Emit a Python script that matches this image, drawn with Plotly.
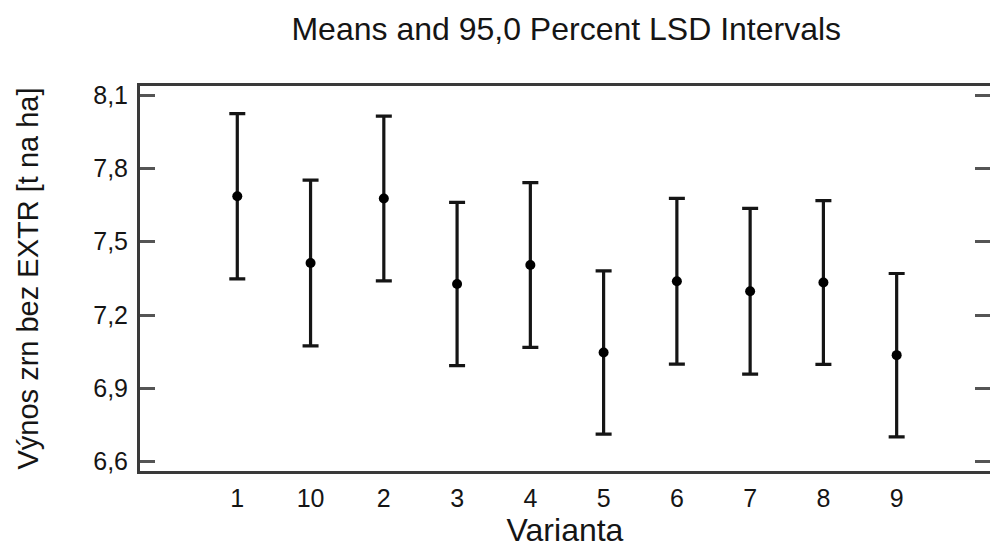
import plotly.graph_objects as go

varianta = ["1", "10", "2", "3", "4", "5", "6", "7", "8", "9"]
means = [7.686, 7.413, 7.677, 7.327, 7.405, 7.047, 7.338, 7.297, 7.333, 7.036]
lsd_half = [0.338, 0.339, 0.337, 0.334, 0.337, 0.334, 0.339, 0.339, 0.335, 0.334]

y_ticks = [6.6, 6.9, 7.2, 7.5, 7.8, 8.1]

font = "Liberation Sans, Arial, sans-serif"

fig = go.Figure()
fig.add_trace(go.Scatter(
    x=list(range(len(varianta))), y=means, mode="markers",
    marker=dict(color="black", size=10),
    error_y=dict(type="data", array=lsd_half, symmetric=True,
                 color="#151515", thickness=3.2, width=8),
    showlegend=False,
))

fig.update_layout(
    width=990, height=548,
    margin=dict(l=140, r=0, t=86, b=77),
    paper_bgcolor="white", plot_bgcolor="white",
    separators=", ",
    font=dict(family=font, color="#151515", size=25),
    title=dict(text="Means and 95,0 Percent LSD Intervals",
               x=0.572, xanchor="center", y=0.947, yanchor="middle",
               font=dict(size=32)),
)
fig.update_xaxes(
    range=[-1.328, 10.274], automargin=False,
    tickmode="array", tickvals=list(range(len(varianta))), ticktext=varianta,
    ticks="", showgrid=False, zeroline=False,
    showline=True, mirror=True, linecolor="#3a3a3a", linewidth=3,
    tickfont=dict(size=25), ticklabelstandoff=3,
    title=dict(text="Varianta", font=dict(size=32), standoff=6),
)
fig.update_yaxes(
    range=[6.562, 8.137], automargin=False,
    tickmode="array", tickvals=y_ticks, tickformat=".1f",
    ticks="inside", ticklen=15, tickwidth=2.5, tickcolor="#555",
    showgrid=False, zeroline=False,
    showline=True, mirror="ticks", linecolor="#3a3a3a", linewidth=3,
    tickfont=dict(size=25), ticklabelstandoff=4,
    title=dict(text="Výnos zrn bez EXTR [t na ha]", font=dict(size=29), standoff=47),
)

fig.write_html("out.html", config={"displayModeBar": False},
               post_script="document.body.style.margin='0';")
